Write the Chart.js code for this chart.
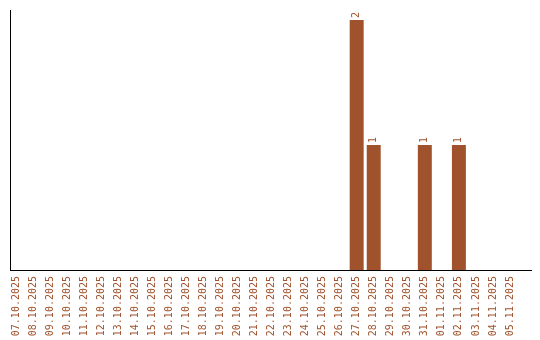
<!DOCTYPE html>
<html>
<head>
<meta charset="utf-8">
<script src="https://cdn.jsdelivr.net/npm/chart.js@4/dist/chart.umd.min.js"></script>
<style>
  html, body { margin: 0; padding: 0; background: #fff; }
  #chart { display: block; }
</style>
</head>
<body>
<canvas id="chart" width="540" height="340"></canvas>
<script>
// one entry per day, 07.10.2025 .. 05.11.2025
const days = [
  '07.10.2025', '08.10.2025', '09.10.2025', '10.10.2025', '11.10.2025',
  '12.10.2025', '13.10.2025', '14.10.2025', '15.10.2025', '16.10.2025',
  '17.10.2025', '18.10.2025', '19.10.2025', '20.10.2025', '21.10.2025',
  '22.10.2025', '23.10.2025', '24.10.2025', '25.10.2025', '26.10.2025',
  '27.10.2025', '28.10.2025', '29.10.2025', '30.10.2025', '31.10.2025',
  '01.11.2025', '02.11.2025', '03.11.2025', '04.11.2025', '05.11.2025',
];
const counts = [
  0, 0, 0, 0, 0, 0, 0, 0, 0, 0,
  0, 0, 0, 0, 0, 0, 0, 0, 0, 0,
  2, 1, 0, 0, 1, 0, 1, 0, 0, 0,
];

const BROWN = '#A0522D';
const FONT = { family: '"DejaVu Sans Mono", monospace', size: 10 };

// small number written upright above each non-empty bar
const valueLabels = {
  id: 'valueLabels',
  afterDatasetsDraw(chart) {
    const { ctx } = chart;
    const meta = chart.getDatasetMeta(0);
    ctx.save();
    ctx.fillStyle = BROWN;
    ctx.font = `${FONT.size}px ${FONT.family}`;
    ctx.textAlign = 'left';
    ctx.textBaseline = 'middle';
    meta.data.forEach((bar, i) => {
      if (!counts[i]) return;
      ctx.save();
      ctx.translate(bar.x, bar.y - 2);
      ctx.rotate(-Math.PI / 2);
      ctx.fillText(String(counts[i]), 0, 0);
      ctx.restore();
    });
    ctx.restore();
  },
};

new Chart(document.getElementById('chart'), {
  type: 'bar',
  data: {
    datasets: [{
      data: counts.map((c, i) => ({ x: i, y: c })),
      backgroundColor: BROWN,
      borderWidth: 0,
      barPercentage: 1,
      categoryPercentage: 0.82,
    }],
  },
  options: {
    responsive: false,
    animation: false,
    layout: { padding: { top: 10, bottom: 4, left: 10, right: 9 } },
    plugins: { legend: { display: false }, tooltip: { enabled: false } },
    scales: {
      x: {
        type: 'linear',
        offset: false,
        min: -0.352,
        max: 30.233,
        grid: { display: false, drawTicks: false },
        border: { display: true, color: '#000', width: 1 },
        // no extra side padding for the rotated end labels, fixed label band
        afterFit(scale) {
          scale.paddingLeft = 0;
          scale.paddingRight = 0;
          scale.height = 66;
        },
        ticks: {
          stepSize: 1,
          autoSkip: false,
          includeBounds: false,
          maxTicksLimit: 40,
          minRotation: 90,
          maxRotation: 90,
          padding: 6,
          color: BROWN,
          font: FONT,
          callback: (v) => (Number.isInteger(v) && days[v]) ? days[v] : '',
        },
      },
      y: {
        min: 0,
        max: 2.08,
        grid: { display: false, drawTicks: false },
        border: { display: true, color: '#000', width: 1 },
        ticks: { display: false },
      },
    },
  },
  plugins: [valueLabels],
});
</script>
</body>
</html>
